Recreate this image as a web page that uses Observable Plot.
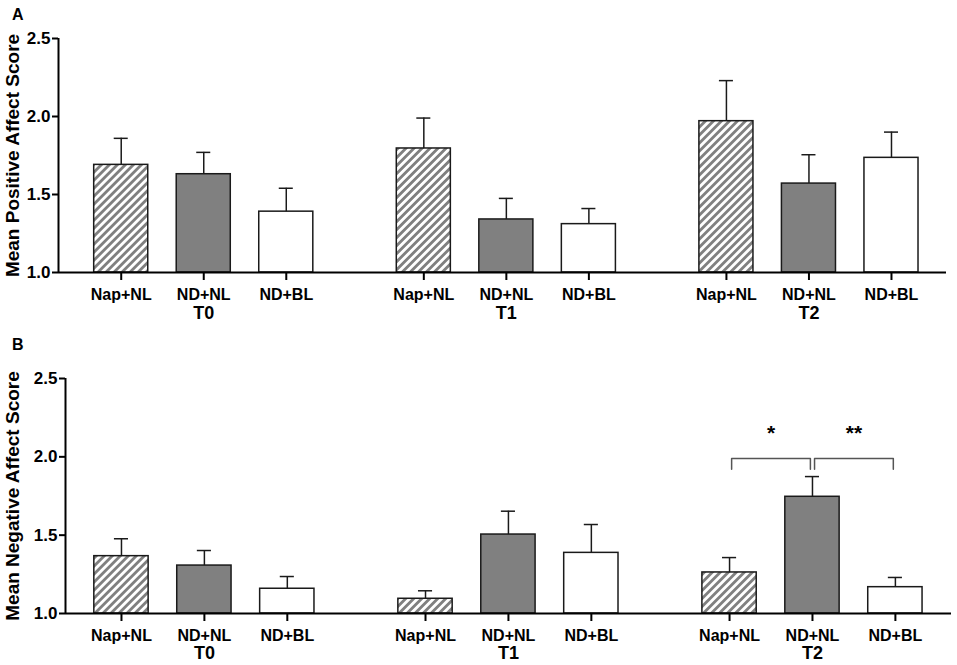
<!DOCTYPE html>
<html><head><meta charset="utf-8">
<script src="https://cdn.jsdelivr.net/npm/d3@7"></script>
<script src="https://cdn.jsdelivr.net/npm/@observablehq/plot@0.6"></script>
<style>
body{margin:0;background:#fff;font-family:"Liberation Sans",Arial,sans-serif;}
#wrap{position:relative;width:957px;height:665px;overflow:hidden;}
.panel{position:absolute;left:0;}
.tag{position:absolute;left:12px;font-weight:bold;font-size:16px;line-height:1;color:#000;}
</style></head><body>
<div id="wrap">
<div class="panel" id="pa" style="top:0"></div>
<div class="panel" id="pb" style="top:330px"></div>
<div class="tag" style="top:7px">A</div>
<div class="tag" style="top:337px">B</div>
</div>
<script>
// ---- data ----
const times = ["T0", "T1", "T2"];
const conditions = ["Nap+NL", "ND+NL", "ND+BL"];
const positiveMean = [[1.69, 1.63, 1.39], [1.795, 1.34, 1.31], [1.97, 1.57, 1.735]];
const positiveSem  = [[0.17, 0.14, 0.15], [0.195, 0.135, 0.10], [0.26, 0.185, 0.165]];
const negativeMean = [[1.366, 1.306, 1.158], [1.094, 1.504, 1.387], [1.262, 1.745, 1.168]];
const negativeSem  = [[0.111, 0.096, 0.078], [0.051, 0.149, 0.181], [0.095, 0.129, 0.062]];
const yTicks = [1.0, 1.5, 2.0, 2.5];
const negativeComparisons = [
  {time: "T2", from: "Nap+NL", to: "ND+NL", label: "*"},
  {time: "T2", from: "ND+NL", to: "ND+BL", label: "**"}
];

// ---- layout ----
const GROUP_STEP = 3 + 2 / 3;
const BAR_W = 0.655;
const CAP_W = 0.17;
const FONT = "Liberation Sans, Arial, Helvetica, sans-serif";
const pos = (t, c) => times.indexOf(t) * GROUP_STEP + conditions.indexOf(c);

function addHatch(svg, id) {
  const s = 5.66;
  const defs = d3.create("svg:defs");
  const pat = defs.append("pattern").attr("id", id).attr("patternUnits", "userSpaceOnUse")
    .attr("width", s).attr("height", s).attr("patternTransform", "rotate(45)");
  pat.append("rect").attr("width", s).attr("height", s).attr("fill", "#ffffff");
  pat.append("rect").attr("width", s / 2).attr("height", s).attr("fill", "#808080");
  svg.insertBefore(defs.node(), svg.firstChild);
}

function panel(opts) {
  const {means, sems, title, hatchId, height, marginTop, marginBottom, marginLeft, marginRight,
         xDomain, labelPad, groupPad, titleDx, comparisons} = opts;
  const fills = [`url(#${hatchId})`, "#808080", "#ffffff"];
  const rows = [];
  times.forEach((t, ti) => conditions.forEach((c, ci) => rows.push({
    time: t, cond: c, ci, mean: means[ti][ci], sem: sems[ti][ci], pos: pos(t, c)
  })));
  const groupCenters = times.map(t => pos(t, conditions[1]));
  const marks = [
    Plot.rectY(rows, {
      x1: d => d.pos - BAR_W / 2, x2: d => d.pos + BAR_W / 2, y1: 1, y2: "mean",
      fill: d => fills[d.ci], stroke: "#1a1a1a", strokeWidth: 1.5
    }),
    Plot.ruleX(rows, {x: "pos", y1: "mean", y2: d => d.mean + d.sem, stroke: "#1a1a1a", strokeWidth: 1.5}),
    Plot.ruleY(rows, {y: d => d.mean + d.sem, x1: d => d.pos - CAP_W / 2, x2: d => d.pos + CAP_W / 2, stroke: "#1a1a1a", strokeWidth: 1.5}),
    Plot.ruleX([xDomain[0]], {stroke: "#000", strokeWidth: 2}),
    Plot.ruleY([1], {stroke: "#000", strokeWidth: 2}),
    Plot.axisY(yTicks, {
      tickFormat: d3.format(".1f"), tickSize: 6, tickPadding: 2, fontSize: 17, fontWeight: "bold",
      strokeWidth: 2, stroke: "#000", fill: "#000", label: null
    }),
    Plot.axisX(rows.map(d => d.pos), {
      tickFormat: p => rows.find(d => d.pos === p).cond, tickSize: 8, tickPadding: labelPad,
      fontSize: 16, fontWeight: "bold", strokeWidth: 2, stroke: "#000", fill: "#000", label: null
    }),
    Plot.axisX(groupCenters, {
      tickFormat: p => times[groupCenters.indexOf(p)], tickSize: 0, tickPadding: groupPad,
      fontSize: 18, fontWeight: "bold", fill: "#000", label: null
    }),
    Plot.text([title], {
      text: d => d, frameAnchor: "left", rotate: -90, dx: titleDx, textAnchor: "middle",
      lineAnchor: "middle", fontSize: 19, fontWeight: "bold", fill: "#000"
    })
  ];
  if (comparisons) {
    const GAP = 0.025, TOP = 1.99, LEG = 1.92, STAR = 2.15;
    const pts = [];
    comparisons.forEach((c, i) => {
      const x1 = pos(c.time, c.from) + GAP, x2 = pos(c.time, c.to) - GAP;
      pts.push({i, x: x1, y: LEG}, {i, x: x1, y: TOP}, {i, x: x2, y: TOP}, {i, x: x2, y: LEG});
    });
    marks.push(Plot.line(pts, {x: "x", y: "y", z: "i", stroke: "#555", strokeWidth: 1.5}));
    marks.push(Plot.text(comparisons, {
      x: c => (pos(c.time, c.from) + pos(c.time, c.to)) / 2, y: STAR, text: "label",
      fontSize: 21, fontWeight: "bold", fill: "#000", lineAnchor: "middle"
    }));
  }
  const svg = Plot.plot({
    width: 957, height, marginTop, marginBottom, marginLeft, marginRight,
    x: {type: "linear", domain: xDomain, axis: null},
    y: {domain: [1, 2.5], axis: null},
    color: {type: "identity"},
    style: {fontFamily: FONT, color: "#000", background: "#fff", overflow: "visible"},
    marks
  });
  addHatch(svg, hatchId);
  return svg;
}

document.getElementById("pa").appendChild(panel({
  means: positiveMean, sems: positiveSem, title: "Mean Positive Affect Score", hatchId: "hatchA",
  height: 330, marginTop: 38, marginBottom: 58, marginLeft: 58, marginRight: 11,
  xDomain: [-0.76, 10.0], labelPad: 8, groupPad: 34, titleDx: -45.5
}));
document.getElementById("pb").appendChild(panel({
  means: negativeMean, sems: negativeSem, title: "Mean Negative Affect Score", hatchId: "hatchB",
  height: 335, marginTop: 48, marginBottom: 52, marginLeft: 65, marginRight: 6,
  xDomain: [-0.675, 10.01], labelPad: 8, groupPad: 33, titleDx: -52.5,
  comparisons: negativeComparisons
}));
</script>
</body></html>
